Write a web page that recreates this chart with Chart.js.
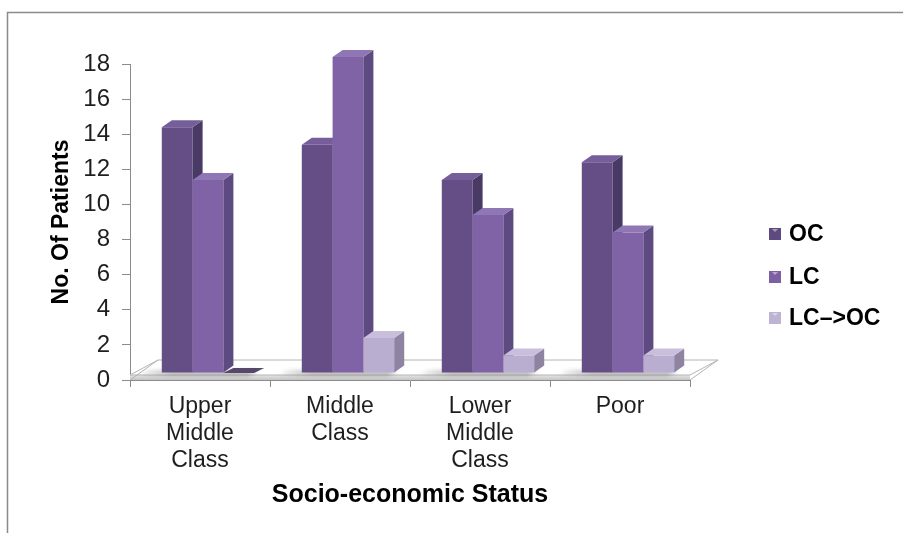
<!DOCTYPE html>
<html>
<head>
<meta charset="utf-8">
<script src="https://cdn.jsdelivr.net/npm/chart.js@4.4.1/dist/chart.umd.min.js"></script>
<style>
  html, body { margin: 0; padding: 0; background: #fff; }
  canvas { display: block; }
</style>
</head>
<body>
<canvas id="myChart" width="903" height="533"></canvas>
<script>
let labels = [["Upper", "Middle", "Class"], ["Middle", "Class"], ["Lower", "Middle", "Class"], ["Poor"]]
let seriesNames = ["OC", "LC", "LC–>OC"]
let ocValues = [14, 13, 11, 12]
let lcValues = [11, 18, 9, 8]
let convertedValues = [0, 2, 1, 1]
let yTicks = [0, 2, 4, 6, 8, 10, 12, 14, 16, 18]

// front / top / side shades for each series
let faceColors = [
    { front: "#654e86", top: "#765e9b", side: "#493a65" },
    { front: "#7f63a6", top: "#8f76b4", side: "#5d4a80" },
    { front: "#b9add0", top: "#c9bfdc", side: "#8e84a2" },
]

Chart.defaults.font.family = "'Liberation Sans', Arial, sans-serif"

// how far bars and floor recede
const barDepth = { dx: 10, dy: 7 }
const barLift = { x: 8, y: -7 }
const floorDepth = { dx: 28, dy: 20, thick: 5 }

function poly(ctx, pts, fill, stroke) {
    ctx.beginPath()
    ctx.moveTo(pts[0][0], pts[0][1])
    for (let i = 1; i < pts.length; i++) ctx.lineTo(pts[i][0], pts[i][1])
    ctx.closePath()
    if (fill) { ctx.fillStyle = fill; ctx.fill() }
    if (stroke) { ctx.strokeStyle = stroke; ctx.lineWidth = 1; ctx.stroke() }
}

const bars3d = {
    id: "bars3d",
    beforeDraw(chart) {
        // frame around the whole chart (only top and left edges are in view)
        let ctx = chart.ctx
        ctx.save()
        ctx.strokeStyle = "#8a8a8a"
        ctx.lineWidth = 1.5
        ctx.beginPath()
        ctx.moveTo(7.5, chart.height)
        ctx.lineTo(7.5, 12.5)
        ctx.lineTo(chart.width, 12.5)
        ctx.stroke()
        ctx.restore()
    },
    beforeDatasetsDraw(chart) {
        let ctx = chart.ctx
        let a = chart.chartArea
        let f = floorDepth
        let yTop = a.bottom - f.thick
        ctx.save()
        // floor slab
        let g = ctx.createLinearGradient(0, yTop, 0, a.bottom)
        g.addColorStop(0, "#e6e6e6")
        g.addColorStop(1, "#c4c4c4")
        poly(ctx, [[a.left, yTop], [a.right, yTop], [a.right, a.bottom], [a.left, a.bottom]], g)
        poly(ctx, [[a.left, yTop], [a.right, yTop], [a.right + f.dx, a.bottom - f.dy], [a.left + f.dx, a.bottom - f.dy]], "#ffffff", "#b4b4b4")
        ctx.strokeStyle = "#b4b4b4"
        ctx.beginPath()
        ctx.moveTo(a.left, a.bottom)
        ctx.lineTo(a.left + f.dx, a.bottom - f.dy)
        ctx.moveTo(a.right, a.bottom)
        ctx.lineTo(a.right + f.dx, a.bottom - f.dy)
        ctx.stroke()

        // soft shadows cast by each group of bars
        let metas = chart.getSortedVisibleDatasetMetas()
        ctx.filter = "blur(2px)"
        labels.forEach((_, i) => {
            let els = metas.map(m => m.data[i])
            let left = Math.min(...els.map(e => e.x - e.width / 2)) + barLift.x
            let right = Math.max(...els.map(e => e.x + e.width / 2)) + barLift.x
            let base = els[0].base + barLift.y
            let sg = ctx.createLinearGradient(left - 28, 0, left + 10, 0)
            sg.addColorStop(0, "rgba(120,120,120,0)")
            sg.addColorStop(1, "rgba(110,110,110,0.55)")
            poly(ctx, [[left - 26, base + 3], [right - 6, base + 3], [right + 4, base - 2], [left - 14, base - 2]], sg)
        })
        ctx.restore()
    },
    // bars are painted below, series by series from left to right
    beforeDatasetDraw() {
        return false
    },
    afterDatasetsDraw(chart) {
        let ctx = chart.ctx
        let d = barDepth
        ctx.save()
        ctx.translate(barLift.x, barLift.y)
        chart.data.datasets.forEach((ds, i) => {
            let c = faceColors[i]
            chart.getDatasetMeta(i).data.forEach(bar => {
                let p = bar.getProps(["x", "y", "base", "width"], true)
                let L = p.x - p.width / 2, R = p.x + p.width / 2, T = p.y, B = p.base
                if (B - T > 0.5) {
                    bar.draw(ctx)
                    poly(ctx, [[R, T], [R + d.dx, T - d.dy], [R + d.dx, B - d.dy], [R, B]], c.side)
                    poly(ctx, [[L, T], [R, T], [R + d.dx, T - d.dy], [L + d.dx, T - d.dy]], c.top)
                } else {
                    poly(ctx, [[L, B], [R, B], [R + d.dx, B - d.dy + 2], [L + d.dx, B - d.dy + 2]], "#55486a")
                }
            })
        })
        ctx.restore()
    },
    afterDraw(chart) {
        // legend to the right of the plot
        let ctx = chart.ctx
        let a = chart.chartArea
        let x = a.right + 79
        let rows = [234, 277, 318]
        let icons = ["#5e4a80", "#7c60a3", "#beb3d3"]
        ctx.save()
        ctx.font = "bold 23px 'Liberation Sans', Arial, sans-serif"
        ctx.textBaseline = "middle"
        chart.data.datasets.forEach((ds, i) => {
            let y = rows[i]
            ctx.fillStyle = icons[i]
            ctx.fillRect(x, y - 6, 12, 12)
            ctx.fillStyle = "rgba(255,255,255,0.45)"
            ctx.beginPath()
            ctx.moveTo(x + 3, y - 5)
            ctx.lineTo(x + 9, y - 5)
            ctx.lineTo(x + 6, y - 2)
            ctx.closePath()
            ctx.fill()
            ctx.fillStyle = "#000000"
            ctx.fillText(ds.label, x + 20, y + 1)
        })
        ctx.restore()
    },
}

let ctx = document.getElementById("myChart").getContext("2d")

let myChart = new Chart(ctx, {
    type: "bar",
    data: {
        labels: labels,
        datasets: [
            { label: seriesNames[0], data: ocValues, backgroundColor: faceColors[0].front },
            { label: seriesNames[1], data: lcValues, backgroundColor: faceColors[1].front },
            { label: seriesNames[2], data: convertedValues, backgroundColor: faceColors[2].front },
        ],
    },
    options: {
        responsive: false,
        animation: false,
        devicePixelRatio: 1,
        layout: { padding: { top: 64, right: 213, bottom: 0, left: 0 } },
        datasets: { bar: { clip: false, categoryPercentage: 0.66, barPercentage: 1.0, borderWidth: 0 } },
        plugins: {
            legend: { display: false },
            tooltip: { enabled: false },
        },
        scales: {
            x: {
                grid: { drawOnChartArea: false, offset: true, tickLength: 7, color: "#8c8c8c" },
                border: { color: "#8c8c8c", width: 1 },
                ticks: {
                    color: "#1e1e1e",
                    font: { size: 23, lineHeight: 1.17 },
                    padding: 6,
                    maxRotation: 0,
                    autoSkip: false,
                },
                title: {
                    display: true,
                    text: "Socio-economic Status",
                    color: "#000000",
                    font: { size: 25, weight: "bold" },
                    padding: { top: 0, bottom: 23 },
                },
                afterFit(scale) { scale.height = 153 },
            },
            y: {
                min: yTicks[0],
                max: yTicks[yTicks.length - 1],
                afterBuildTicks(scale) { scale.ticks = yTicks.map(v => ({ value: v })) },
                grid: { drawOnChartArea: false, tickLength: 8, color: "#8c8c8c" },
                border: { color: "#8c8c8c", width: 1 },
                ticks: { color: "#1e1e1e", font: { size: 24 }, padding: 12 },
                title: {
                    display: true,
                    text: "No. Of Patients",
                    color: "#000000",
                    font: { size: 23, weight: "bold" },
                    padding: { top: 48, bottom: 0 },
                },
                afterFit(scale) { scale.width = 130 },
            },
        },
    },
    plugins: [bars3d],
})
</script>
</body>
</html>
